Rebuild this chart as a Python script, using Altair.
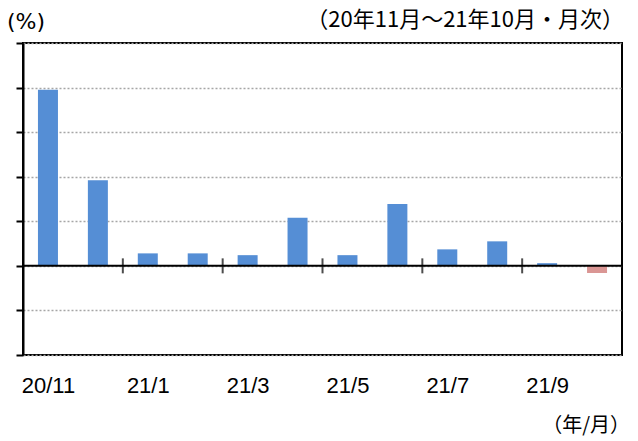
import altair as alt
import pandas as pd

months = ["20/11", "20/12", "21/1", "21/2", "21/3", "21/4",
          "21/5", "21/6", "21/7", "21/8", "21/9", "21/10"]
values = [3.95, 1.92, 0.28, 0.28, 0.24, 1.08, 0.24, 1.39, 0.37, 0.55, 0.06, -0.16]
y_ticks = [-2, -1, 0, 1, 2, 3, 4, 5]

df = pd.DataFrame({"idx": list(range(len(months))), "month": months, "value": values})
df["sign"] = ["pos" if v >= 0 else "neg" for v in values]

# boundaries between every second month (tick marks on the zero line)
tick_df = pd.DataFrame({"pos": [i - 0.5 for i in df["idx"] if i % 2 == 0 and i > 0], "zero": 0})

one = pd.DataFrame({"k": [0]})

label_expr = "[" + ",".join("'" + m + "'" for m in months) + "][datum.value]"

x_scale = alt.Scale(domain=[-0.5, len(months) - 0.5], nice=False, zero=False, padding=0)
y_scale = alt.Scale(domain=[y_ticks[0], y_ticks[-1]], nice=False, zero=False, padding=0)

bars = alt.Chart(df).mark_bar(size=20).encode(
    x=alt.X("idx:Q", scale=x_scale,
            axis=alt.Axis(values=list(range(0, len(months), 2)), labelExpr=label_expr,
                          title=None, domain=False, ticks=False, tickSize=0, grid=False,
                          labelPadding=20, labelFont="Liberation Sans", labelFontSize=22,
                          labelColor="black", labelAngle=0)),
    y=alt.Y("value:Q", scale=y_scale,
            axis=alt.Axis(values=y_ticks, labels=False, title=None, domain=True,
                          domainColor="black", domainWidth=2, ticks=True, tickSize=7,
                          tickColor="black", tickWidth=2, grid=True, gridDash=[2, 2],
                          gridColor="#a6a6a6", gridWidth=1.5)),
    color=alt.Color("sign:N", scale=alt.Scale(domain=["pos", "neg"], range=["#558ED5", "#DA9694"]),
                    legend=None),
)

zero = alt.Chart(one).mark_rule(color="black", strokeWidth=2).encode(
    y=alt.datum(0, scale=y_scale)
)

ticks = alt.Chart(tick_df).mark_tick(orient="vertical", size=15, thickness=2, color="black").encode(
    x=alt.X("pos:Q", scale=x_scale),
    y=alt.Y("zero:Q", scale=y_scale),
)

unit_txt = alt.Chart(one).mark_text(
    text="(%)", font="DejaVu Sans", fontSize=22, fontWeight="normal",
    align="left", baseline="alphabetic", color="black"
).encode(x=alt.value(-16), y=alt.value(-14))

range_txt = alt.Chart(one).mark_text(
    text="（20年11月～21年10月・月次）", font="Noto Sans CJK JP", fontSize=22, fontWeight="normal",
    align="right", baseline="alphabetic", color="black"
).encode(x=alt.value(601), y=alt.value(-16))

axis_txt = alt.Chart(one).mark_text(
    text="（年/月）", font="Noto Sans CJK JP", fontSize=20, fontWeight="normal",
    align="right", baseline="alphabetic", color="black"
).encode(x=alt.value(607), y=alt.value(389))

chart = alt.layer(bars, zero, ticks, unit_txt, range_txt, axis_txt).properties(
    width=599, height=312,
    autosize=alt.AutoSizeParams(type="none"),
    padding={"left": 15, "top": 35, "right": 8, "bottom": 82},
).configure_view(stroke="black", strokeWidth=2)

chart.save("out.html", embed_options={"renderer": "svg", "actions": False})
